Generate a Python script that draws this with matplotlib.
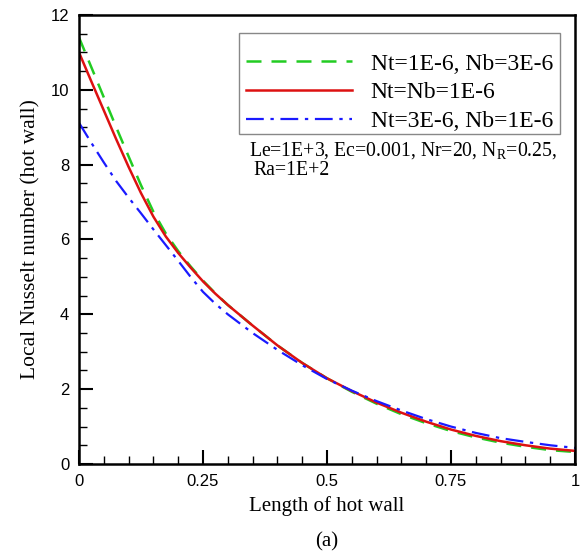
import matplotlib
matplotlib.use("Agg")
import matplotlib.pyplot as plt
from matplotlib.patches import Rectangle
from matplotlib.ticker import MultipleLocator

# values
x_pos = [0.0, 0.025, 0.05, 0.075, 0.1, 0.125, 0.15, 0.175, 0.2, 0.225, 0.25, 0.275,
         0.3, 0.35, 0.4, 0.45, 0.5, 0.55, 0.6, 0.65, 0.7, 0.75, 0.8, 0.85, 0.9, 0.95, 1.0]

nu_green = [11.4, 10.6, 9.8, 9.0, 8.22, 7.45, 6.74, 6.16, 5.69, 5.28, 4.9, 4.56,
            4.25, 3.7, 3.17, 2.7, 2.29, 1.93, 1.61, 1.33, 1.09, 0.88, 0.71, 0.57,
            0.46, 0.37, 0.32]
nu_red = [11.0, 10.22, 9.45, 8.68, 7.94, 7.24, 6.61, 6.08, 5.64, 5.25, 4.88, 4.55,
          4.25, 3.7, 3.17, 2.7, 2.29, 1.95, 1.64, 1.37, 1.13, 0.92, 0.75, 0.61,
          0.5, 0.41, 0.35]
nu_blue = [9.12, 8.58, 8.06, 7.56, 7.12, 6.7, 6.27, 5.85, 5.43, 5.0, 4.6, 4.28,
           4.0, 3.5, 3.05, 2.64, 2.27, 1.96, 1.68, 1.43, 1.2, 1.0, 0.83, 0.69,
           0.59, 0.5, 0.43]

labels = ["Nt=1E-6, Nb=3E-6", "Nt=Nb=1E-6", "Nt=3E-6, Nb=1E-6"]

serif = "Liberation Serif"
sans = "Liberation Sans"

fig = plt.figure(figsize=(5.86, 5.59), dpi=100)
ax = fig.add_axes([0.1348, 0.170, 0.8464, 0.8032])

ax.plot(x_pos, nu_green, color="#22cc22", ls=(0, (6, 4)), lw=1.8, label=labels[0])
ax.plot(x_pos, nu_red, color="#dd1111", ls="-", lw=1.8, label=labels[1])
ax.plot(x_pos, nu_blue, color="#1a1aff", ls=(0, (8, 3, 1.5, 3)), lw=1.6, label=labels[2])

ax.set_xlim(0, 1)
ax.set_ylim(0, 12)
ax.xaxis.set_major_locator(MultipleLocator(0.25))
ax.xaxis.set_minor_locator(MultipleLocator(0.05))
ax.yaxis.set_major_locator(MultipleLocator(2))
ax.yaxis.set_minor_locator(MultipleLocator(0.5))
ax.set_xticks([0, 0.25, 0.5, 0.75, 1])
ax.set_xticklabels(["0", "0.25", "0.5", "0.75", "1"])
ax.tick_params(which="both", direction="in", top=False, right=False, width=1.5)
ax.tick_params(which="major", length=10, labelsize=12, pad=7)
ax.tick_params(which="minor", length=6, width=1.0)
for lab in ax.get_xticklabels() + ax.get_yticklabels():
    lab.set_fontfamily(sans)
for s in ax.spines.values():
    s.set_linewidth(1.8)

ax.set_xlabel("Length of hot wall", fontfamily=serif, fontsize=15, labelpad=5)
ax.set_ylabel("Local Nusselt number (hot wall)", fontfamily=serif, fontsize=15.5, labelpad=7)

# legend frame drawn separately (the reference box has extra room on top)
ax.add_patch(Rectangle((0.3226, 0.735), 0.6472, 0.2249, transform=ax.transAxes,
                       fill=True, facecolor="white", edgecolor="#888888", lw=1.0,
                       zorder=4))
leg = ax.legend(loc="upper right", bbox_to_anchor=(0.9556, 0.915),
                prop={"family": serif, "size": 17}, frameon=False,
                handlelength=4.5, handletextpad=0.8, borderpad=0,
                labelspacing=0.3, borderaxespad=0)
leg.set_zorder(5)

ax.text(0.343, 0.688, "Le=1E+3, Ec=0.001, Nr=20, N$_\\mathregular{R}$=0.25,",
        transform=ax.transAxes, fontfamily=serif, fontsize=14.2, va="baseline", ha="left")
ax.text(0.351, 0.6425, "Ra=1E+2",
        transform=ax.transAxes, fontfamily=serif, fontsize=14.2, va="baseline", ha="left")

fig.text(0.558, 0.030, "(a)", fontfamily=serif, fontsize=15, ha="center", va="center")

fig.savefig("out.png", dpi=100)
